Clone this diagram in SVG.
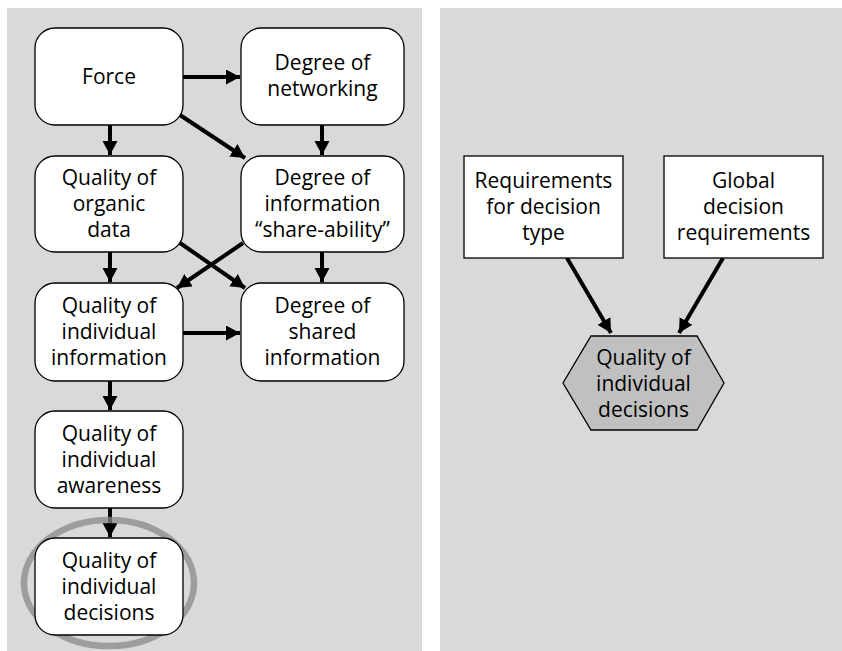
<svg xmlns="http://www.w3.org/2000/svg" width="842" height="651" viewBox="0 0 842 651">
<defs>
<marker id="ah" markerUnits="userSpaceOnUse" markerWidth="16" markerHeight="16" refX="14" refY="7.5" orient="auto">
<path d="M0,0 L14,7.5 L0,15 z" fill="#000"/>
</marker>
</defs>
<style>
.bg{fill:#d9d9d9}
.box{fill:#fff;stroke:#000;stroke-width:1.3}
.t{font-family:"Open Sans","Noto Sans","DejaVu Sans",sans-serif;font-size:21px;fill:#000;text-anchor:middle}
.c{stroke:#000;stroke-width:4;fill:none;marker-end:url(#ah)}
</style>
<rect class="bg" x="7" y="8" width="415" height="643"/>
<rect class="bg" x="440" y="8" width="402" height="643"/>
<g id="connectors">
<line class="c" x1="183" y1="77" x2="240" y2="77"/>
<line class="c" x1="110" y1="125" x2="110" y2="155"/>
<line class="c" x1="322" y1="125" x2="322" y2="155"/>
<line class="c" x1="180" y1="115" x2="245" y2="158"/>
<line class="c" x1="110" y1="252" x2="110" y2="282"/>
<line class="c" x1="322" y1="252" x2="322" y2="282"/>
<line class="c" x1="180" y1="243" x2="245" y2="288"/>
<line class="c" x1="243" y1="243" x2="177" y2="288"/>
<line class="c" x1="183" y1="333" x2="240" y2="333"/>
<line class="c" x1="110" y1="381" x2="110" y2="410"/>
<line class="c" x1="110" y1="508" x2="110" y2="537"/>
<line class="c" x1="567" y1="258" x2="611" y2="333"/>
<line class="c" x1="723" y1="258" x2="679" y2="333"/>
</g>
<ellipse id="highlight" cx="109" cy="583" rx="85" ry="63" fill="none" stroke="#888" stroke-opacity="0.75" stroke-width="6.5"/>
<g id="force">
<rect class="box" x="35" y="28" width="148" height="97" rx="20"/>
<text class="t" x="109" y="84">Force</text>
</g>
<g id="networking">
<rect class="box" x="241" y="28" width="163" height="97" rx="20"/>
<text class="t" x="322.5" y="70">Degree of</text>
<text class="t" x="322.5" y="96">networking</text>
</g>
<g id="organic">
<rect class="box" x="35" y="156" width="148" height="96" rx="20"/>
<text class="t" x="109" y="185">Quality of</text>
<text class="t" x="109" y="211">organic</text>
<text class="t" x="109" y="237">data</text>
</g>
<g id="shareability">
<rect class="box" x="241" y="156" width="163" height="96" rx="20"/>
<text class="t" x="322.5" y="185">Degree of</text>
<text class="t" x="322.5" y="211">information</text>
<text class="t" x="322.5" y="237">“share-ability”</text>
</g>
<g id="indinfo">
<rect class="box" x="35" y="283" width="148" height="98" rx="20"/>
<text class="t" x="109" y="313">Quality of</text>
<text class="t" x="109" y="339">individual</text>
<text class="t" x="109" y="365">information</text>
</g>
<g id="shared">
<rect class="box" x="241" y="283" width="163" height="98" rx="20"/>
<text class="t" x="322.5" y="313">Degree of</text>
<text class="t" x="322.5" y="339">shared</text>
<text class="t" x="322.5" y="365">information</text>
</g>
<g id="awareness">
<rect class="box" x="35" y="411" width="148" height="97" rx="20"/>
<text class="t" x="109" y="441">Quality of</text>
<text class="t" x="109" y="467">individual</text>
<text class="t" x="109" y="493">awareness</text>
</g>
<g id="decisions">
<rect class="box" x="35" y="538" width="148" height="97" rx="20"/>
<text class="t" x="109" y="568">Quality of</text>
<text class="t" x="109" y="594">individual</text>
<text class="t" x="109" y="620">decisions</text>
</g>
<g id="reqtype">
<rect class="box" x="464" y="156" width="159" height="102"/>
<text class="t" x="543.5" y="188">Requirements</text>
<text class="t" x="543.5" y="214">for decision</text>
<text class="t" x="543.5" y="240">type</text>
</g>
<g id="globalreq">
<rect class="box" x="664" y="156" width="159" height="102"/>
<text class="t" x="743.5" y="188">Global</text>
<text class="t" x="743.5" y="214">decision</text>
<text class="t" x="743.5" y="240">requirements</text>
</g>
<g id="hexdecisions">
<polygon points="591,336 697,336 724,383 697,430 591,430 563,383" fill="#c0c0c0" stroke="#000" stroke-width="1.3"/>
<text class="t" x="643.5" y="365">Quality of</text>
<text class="t" x="643.5" y="391">individual</text>
<text class="t" x="643.5" y="417">decisions</text>
</g>
</svg>
